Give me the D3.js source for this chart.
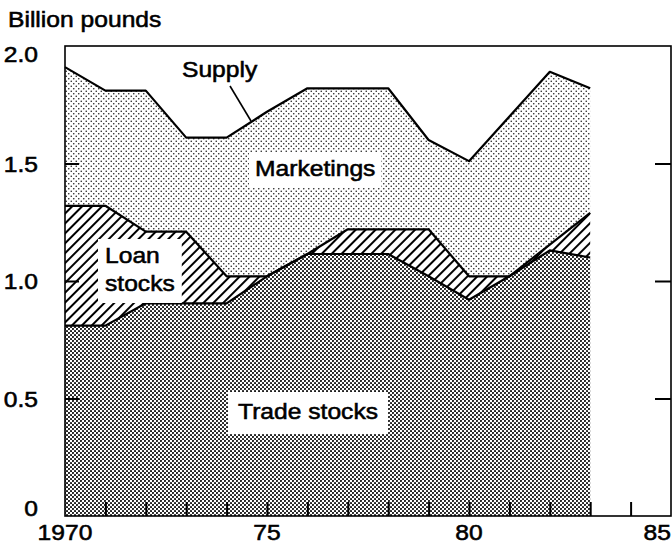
<!DOCTYPE html>
<html><head><meta charset="UTF-8">
<title>Supply, marketings and stocks</title>
<script src="https://cdn.jsdelivr.net/npm/d3@7"></script>
<style>
body { margin: 0; background: #fff; }
text { font-family: "Liberation Sans", Arial, sans-serif; fill: #000; stroke: #000; stroke-width: 0.55px; }
</style></head><body>
<script>
// values (billion pounds)
var years = [1970, 1971, 1972, 1973, 1974, 1975, 1976, 1977, 1978, 1979, 1980, 1981, 1982, 1983];
var supply = [1.91, 1.81, 1.81, 1.61, 1.61, 1.72, 1.82, 1.82, 1.82, 1.60, 1.51, 1.70, 1.89, 1.82];
var totalStocks = [1.32, 1.32, 1.21, 1.21, 1.02, 1.02, 1.115, 1.22, 1.22, 1.22, 1.02, 1.02, 1.155, 1.29];
var tradeStocks = [0.81, 0.81, 0.905, 0.905, 0.905, 1.02, 1.115, 1.115, 1.115, 1.02, 0.92, 1.02, 1.13, 1.10];
var yTicks = [0, 0.5, 1.0, 1.5, 2.0];
var xLabels = [1970, 1975, 1980, 1985];

var width = 672, height = 546;
var sx = 1.12; // original type is a bit wider than Liberation Sans

var x = d3.scaleLinear().domain([1970, 1985]).range([65, 671]);
var y = d3.scaleLinear().domain([0, 2]).range([516, 46]);

var svg = d3.select("body").append("svg")
    .attr("width", width).attr("height", height);

// fill patterns
var defs = svg.append("defs");
var pm = defs.append("pattern").attr("id", "mkt")
    .attr("width", 5).attr("height", 5).attr("patternUnits", "userSpaceOnUse");
pm.append("rect").attr("width", 5).attr("height", 5).attr("fill", "#fff");
pm.append("circle").attr("cx", 1.25).attr("cy", 1.25).attr("r", 0.8).attr("fill", "#222");
pm.append("circle").attr("cx", 3.75).attr("cy", 3.75).attr("r", 0.8).attr("fill", "#222");

var pt = defs.append("pattern").attr("id", "trade")
    .attr("width", 4).attr("height", 4).attr("patternUnits", "userSpaceOnUse");
pt.append("rect").attr("width", 4).attr("height", 4).attr("fill", "#fff");
pt.append("circle").attr("cx", 1).attr("cy", 1).attr("r", 1.05).attr("fill", "#111");
pt.append("circle").attr("cx", 3).attr("cy", 3).attr("r", 1.05).attr("fill", "#111");

var ph = defs.append("pattern").attr("id", "hatch")
    .attr("width", 7).attr("height", 7).attr("patternUnits", "userSpaceOnUse")
    .attr("patternTransform", "rotate(45)");
ph.append("rect").attr("width", 7).attr("height", 7).attr("fill", "#fff");
ph.append("line").attr("x1", 1).attr("y1", 0).attr("x2", 1).attr("y2", 7)
    .attr("stroke", "#000").attr("stroke-width", 2);

var idx = d3.range(years.length);

function band(lo, hi) {
    return d3.area()
        .x(function (i) { return x(years[i]); })
        .y0(function (i) { return y(lo ? lo[i] : 0); })
        .y1(function (i) { return y(hi[i]); });
}
function line(v) {
    return d3.line()
        .x(function (i) { return x(years[i]); })
        .y(function (i) { return y(v[i]); });
}

svg.append("path").attr("d", band(null, tradeStocks)(idx)).attr("fill", "url(#trade)");
svg.append("path").attr("d", band(tradeStocks, totalStocks)(idx)).attr("fill", "url(#hatch)");
svg.append("path").attr("d", band(totalStocks, supply)(idx)).attr("fill", "url(#mkt)");

[supply, totalStocks, tradeStocks].forEach(function (v) {
    svg.append("path").attr("d", line(v)(idx))
        .attr("fill", "none").attr("stroke", "#000")
        .attr("stroke-width", 2.2).attr("stroke-linejoin", "round");
});

// frame
svg.append("rect")
    .attr("x", x(1970)).attr("y", y(2))
    .attr("width", x(1985) - x(1970)).attr("height", y(0) - y(2))
    .attr("fill", "none").attr("stroke", "#000").attr("stroke-width", 1.6);

// inward ticks
function tickStyle(g) {
    g.select(".domain").remove();
    g.selectAll("line").attr("stroke", "#000").attr("stroke-width", 2);
}
svg.append("g").attr("transform", "translate(0," + y(0) + ")")
    .call(d3.axisBottom(x).tickValues(d3.range(1971, 1985)).tickSize(-14).tickFormat(""))
    .call(tickStyle);
svg.append("g").attr("transform", "translate(" + x(1970) + ",0)")
    .call(d3.axisLeft(y).tickValues([0.5, 1.0, 1.5]).tickSize(-14).tickFormat(""))
    .call(tickStyle);
svg.append("g").attr("transform", "translate(" + x(1985) + ",0)")
    .call(d3.axisRight(y).tickValues([0.5, 1.0, 1.5]).tickSize(-16).tickFormat(""))
    .call(tickStyle);

function label(str, px, py, size, anchor) {
    return svg.append("text")
        .attr("transform", "translate(" + px + "," + py + ") scale(" + sx + ",1)")
        .attr("font-size", size).attr("text-anchor", anchor || "start")
        .text(str);
}

// axis labels
yTicks.forEach(function (v) {
    var off = v === 2 ? 8 : (v === 0 ? -8 : 0);
    label(v === 0 ? "0" : d3.format(".1f")(v), 38, y(v) + off + 8, 22, "end");
});
xLabels.forEach(function (v) {
    label(v === 1970 ? "1970" : String(v % 100), v === 1985 ? 671 : x(v), 540, 22, v === 1985 ? "end" : "middle");
});
label("Billion pounds", 8, 27, 22);

// series labels on white boxes
function boxed(lines, px, py, lh, pad) {
    var ts = lines.map(function (s, k) { return label(s, px, py + k * lh, 22); });
    var bb = ts.map(function (t) { return t.node().getBBox(); });
    var x0 = px - pad, x1 = px + d3.max(bb, function (b) { return b.width; }) * sx + pad;
    var y0 = py - 17 - pad, y1 = py + (lines.length - 1) * lh + 5 + pad;
    svg.insert("rect", function () { return ts[0].node(); })
        .attr("x", x0).attr("y", y0).attr("width", x1 - x0).attr("height", y1 - y0)
        .attr("fill", "#fff");
}
boxed(["Marketings"], 255, 176, 0, 6);
boxed(["Loan", "stocks"], 105, 263, 28, 7);
boxed(["Trade stocks"], 238, 419, 0, 10);

label("Supply", 182, 77, 22);
svg.append("line").attr("x1", 230).attr("y1", 86).attr("x2", 251).attr("y2", 121)
    .attr("stroke", "#000").attr("stroke-width", 1.6);
</script>
</body></html>
